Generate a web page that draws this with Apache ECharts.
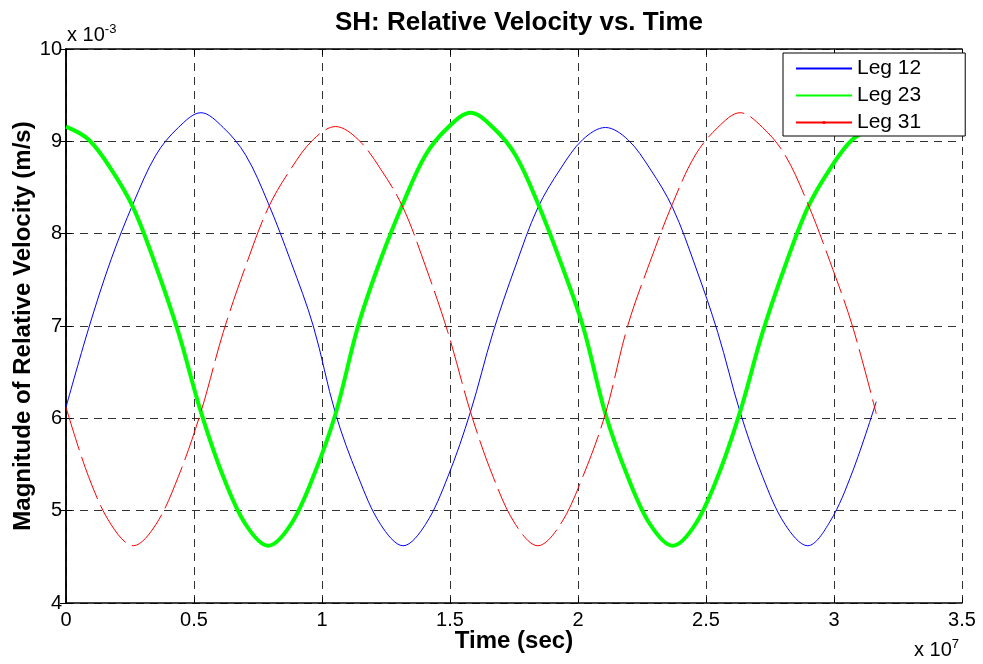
<!DOCTYPE html>
<html>
<head>
<meta charset="utf-8">
<script src="https://cdn.jsdelivr.net/npm/echarts@6/dist/echarts.min.js"></script>
<style>html,body{margin:0;padding:0;background:#fff}#c{width:983px;height:664px}</style>
</head>
<body>
<div id="c"></div>
<script>
// time in units of 1e7 s, velocity in units of 1e-3 m/s
var seriesNames = ['Leg 12', 'Leg 23', 'Leg 31'];
var timeT = [0, 0.088, 0.176, 0.263, 0.351, 0.439, 0.527, 0.614, 0.702, 0.79, 0.878, 0.966, 1.053, 1.141, 1.229, 1.317, 1.404, 1.492, 1.58, 1.668, 1.756, 1.843, 1.931, 2.019, 2.107, 2.194, 2.282, 2.37, 2.458, 2.546, 2.633, 2.721, 2.809, 2.897, 2.984, 3.072, 3.165];
var leg12V = [6.12, 6.97, 7.72, 8.33, 8.85, 9.15, 9.31, 9.15, 8.85, 8.33, 7.7, 7.0, 6.05, 5.37, 4.85, 4.62, 4.85, 5.37, 6.07, 6.93, 7.65, 8.28, 8.7, 9.02, 9.15, 9.02, 8.7, 8.28, 7.65, 6.93, 6.07, 5.37, 4.85, 4.62, 4.88, 5.42, 6.18];
var leg23V = [9.16, 9.02, 8.7, 8.28, 7.65, 6.93, 6.07, 5.37, 4.85, 4.62, 4.85, 5.37, 6.05, 7.0, 7.72, 8.33, 8.85, 9.15, 9.31, 9.15, 8.85, 8.33, 7.7, 7.0, 6.05, 5.37, 4.85, 4.62, 4.85, 5.37, 6.07, 6.93, 7.65, 8.28, 8.7, 9.02, 9.16];
var leg31V = [6.12, 5.37, 4.85, 4.62, 4.85, 5.37, 6.07, 6.93, 7.65, 8.28, 8.7, 9.02, 9.16, 9.02, 8.7, 8.28, 7.65, 6.93, 6.07, 5.37, 4.85, 4.62, 4.85, 5.37, 6.05, 7.0, 7.7, 8.33, 8.85, 9.15, 9.31, 9.15, 8.85, 8.33, 7.7, 7.0, 6.05];
var xTicks = {min: 0, max: 3.5, interval: 0.5};
var yTicks = {min: 4, max: 10, interval: 1};

function pairs(t, v) { return t.map(function (x, i) { return [x, v[i]]; }); }

var FONT = 'Liberation Sans, Arial, sans-serif';
var chart = echarts.init(document.getElementById('c'), null, {renderer: 'canvas'});
var gridLine = {show: true, lineStyle: {color: '#333', width: 1, type: [8, 6]}};
var baseAxisLine = {show: true, lineStyle: {color: '#000', width: 1.5}};
var tick = {show: true, inside: true, length: 6, lineStyle: {color: '#000'}};
chart.setOption({
  animation: false,
  backgroundColor: '#fff',
  title: {
    text: 'SH: Relative Velocity vs. Time',
    left: 514, top: 5, textAlign: 'center',
    textStyle: {fontFamily: FONT, fontSize: 26, fontWeight: 'bold', color: '#000'}
  },
  grid: {left: 66, right: 21, top: 49, bottom: 61, show: false, containLabel: false, outerBoundsMode: 'none'},
  legend: {
    orient: 'vertical', left: 783, top: 53,
    backgroundColor: '#fff', borderColor: '#000', borderWidth: 1,
    padding: [5, 44, 3, 12], itemGap: 6, itemWidth: 56, itemHeight: 4,
    textStyle: {fontFamily: FONT, fontSize: 21, color: '#000'},
    data: [
      {name: seriesNames[0], itemStyle: {opacity: 0}},
      {name: seriesNames[1], itemStyle: {opacity: 0}},
      {name: seriesNames[2], lineStyle: {type: 'solid'}}
    ]
  },
  xAxis: [{
    type: 'value', min: xTicks.min, max: xTicks.max, interval: xTicks.interval,
    name: 'Time (sec)', nameLocation: 'middle', nameGap: 26, nameMoveOverlap: false,
    nameTextStyle: {fontFamily: FONT, fontSize: 24, fontWeight: 'bold', color: '#000'},
    axisLine: baseAxisLine, axisTick: tick,
    axisLabel: {fontFamily: FONT, fontSize: 20, color: '#000', margin: 7},
    splitLine: gridLine
  }, {
    type: 'value', position: 'top', min: xTicks.min, max: xTicks.max, interval: xTicks.interval,
    axisLine: baseAxisLine, axisTick: tick,
    axisLabel: {show: false}, splitLine: {show: false}
  }],
  yAxis: [{
    type: 'value', min: yTicks.min, max: yTicks.max, interval: yTicks.interval,
    name: 'Magnitude of Relative Velocity (m/s)', nameLocation: 'middle', nameGap: 31, nameMoveOverlap: false,
    nameTextStyle: {fontFamily: FONT, fontSize: 24, fontWeight: 'bold', color: '#000'},
    axisLine: baseAxisLine, axisTick: tick,
    axisLabel: {fontFamily: FONT, fontSize: 20, color: '#000', margin: 4},
    splitLine: gridLine
  }, {
    type: 'value', position: 'right', min: yTicks.min, max: yTicks.max, interval: yTicks.interval,
    axisLine: baseAxisLine, axisTick: tick,
    axisLabel: {show: false}, splitLine: {show: false}
  }],
  graphic: [{
    type: 'text', left: 67, top: 23,
    style: {
      text: 'x 10{s|-3}', fontFamily: FONT, fontSize: 20, fill: '#000',
      rich: {s: {fontFamily: FONT, fontSize: 13, padding: [0, 0, 12, 0]}}
    }
  }, {
    type: 'text', left: 914, top: 638,
    style: {
      text: 'x 10{s|7}', fontFamily: FONT, fontSize: 20, fill: '#000',
      rich: {s: {fontFamily: FONT, fontSize: 13, padding: [0, 0, 12, 0]}}
    }
  }],
  series: [{
    name: seriesNames[0], type: 'line', data: pairs(timeT, leg12V),
    smooth: 0.35, showSymbol: false, symbol: 'none',
    lineStyle: {color: '#0000ff', width: 1}, itemStyle: {color: '#0000ff'}
  }, {
    name: seriesNames[1], type: 'line', data: pairs(timeT, leg23V),
    smooth: 0.35, showSymbol: false, symbol: 'none',
    lineStyle: {color: '#00ff00', width: 4}, itemStyle: {color: '#00ff00'}
  }, {
    name: seriesNames[2], type: 'line', data: pairs(timeT, leg31V),
    smooth: 0.35, showSymbol: false, symbol: 'none',
    lineStyle: {color: '#ff0000', width: 1, type: [45, 7]}, itemStyle: {color: '#ff0000'}
  }]
});
</script>
</body>
</html>
